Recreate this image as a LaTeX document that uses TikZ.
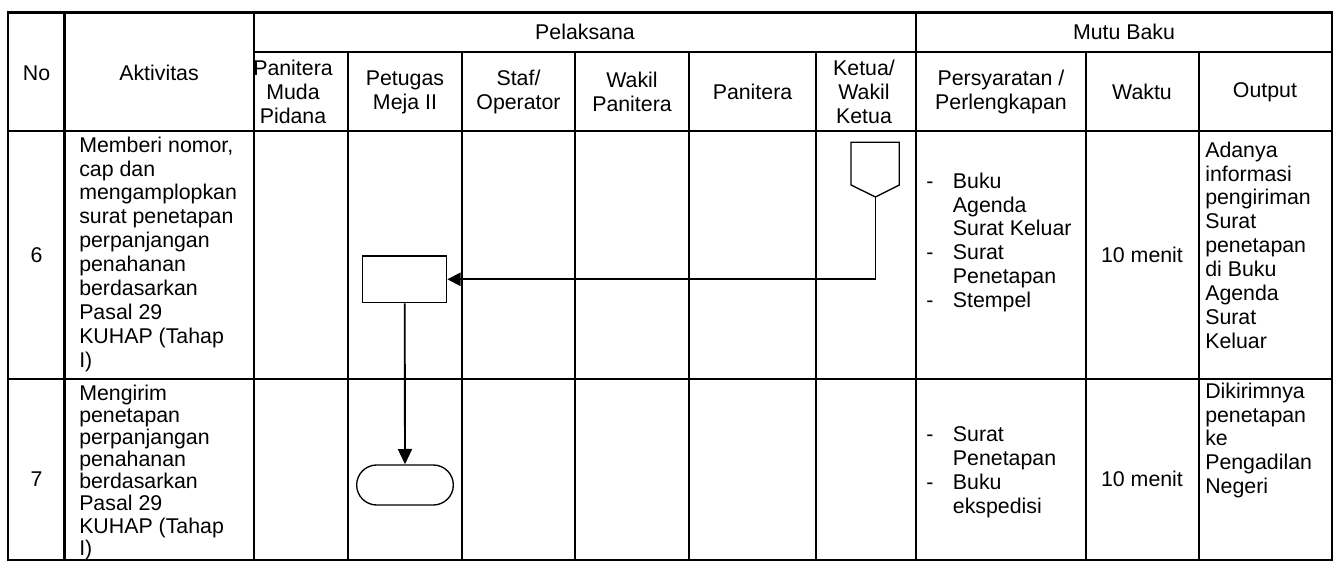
\documentclass[tikz,border=0pt]{standalone}
\usepackage{fontspec}
\setmainfont{Liberation Sans}
\usetikzlibrary{arrows.meta}
\begin{document}
\begin{tikzpicture}[x=0.75pt,y=-0.75pt,
  txt/.style={font=\fontsize{16pt}{17.9pt}\selectfont, inner sep=0pt},
  tighttxt/.style={font=\fontsize{16pt}{16.6pt}\selectfont, inner sep=0pt},
  gridline/.style={line width=1.7pt},
  shp/.style={draw, line width=1pt, fill=white, inner sep=0pt},
  conn/.style={line width=1.4pt, -{Triangle[length=10pt,width=10pt]}}]
\useasboundingbox (0,0) rectangle (1340,577);
% table grid
\draw[gridline] (8,12.5) rectangle (1332,560);
\draw[gridline] (254,52) -- (1332,52);
\draw[gridline] (8,131) -- (1332,131);
\draw[gridline] (8,379) -- (1332,379);
\foreach \x in {64.5,254,916} \draw[gridline] (\x,12.5) -- (\x,560);
\foreach \x in {348,462,575,689,816,1086,1199} \draw[gridline] (\x,52) -- (\x,560);
% header texts
\node[txt] (hno) at (36.5,73) {No};
\node[txt] (hakt) at (159,73) {Aktivitas};
\node[txt] (hpel) at (585,32) {Pelaksana};
\node[txt] (hmutu) at (1124,32) {Mutu Baku};
\node[txt, align=center] (hpmp) at (293,92) {Panitera\\Muda\\Pidana};
\node[txt, align=center] (hpmj) at (405,92) {Petugas\\Meja II};
\node[txt, align=center] (hstaf) at (518.5,92) {Staf/\\Operator};
\node[txt, align=center] (hwp) at (632,92) {Wakil\\Panitera};
\node[txt, align=center] (hpan) at (752.5,92) {Panitera};
\node[txt, align=center] (hket) at (864,92) {Ketua/\\Wakil\\Ketua};
\node[txt, align=center] (hpers) at (1001,92) {Persyaratan /\\Perlengkapan};
\node[txt, align=center] (hwak) at (1142,92) {Waktu};
\node[txt, align=center] (hout) at (1265,92) {Output};
% row 6
\node[txt] (n6) at (36.5,255) {6};
\node[txt, anchor=north west, align=left] (a6) at (79,136.5)
  {Memberi nomor,\\cap dan\\mengamplopkan\\surat penetapan\\perpanjangan\\penahanan\\berdasarkan\\Pasal 29\\KUHAP (Tahap\\I)};
\node[txt, anchor=north west, align=left] (p6txt) at (926,172.5)
  {\makebox[20pt][l]{-}Buku\\\hspace*{20pt}Agenda\\\hspace*{20pt}Surat Keluar\\\makebox[20pt][l]{-}Surat\\\hspace*{20pt}Penetapan\\\makebox[20pt][l]{-}Stempel};
\node[txt] (w6) at (1142,255) {10 menit};
\node[txt, anchor=north west, align=left] (o6) at (1205,141.5)
  {Adanya\\informasi\\pengiriman\\Surat\\penetapan\\di Buku\\Agenda\\Surat\\Keluar};
% row 7
\node[txt] (n7) at (36.5,479) {7};
\node[tighttxt, anchor=north west, align=left] (a7) at (79,384.5)
  {Mengirim\\penetapan\\perpanjangan\\penahanan\\berdasarkan\\Pasal 29\\KUHAP (Tahap\\I)};
\node[txt, anchor=north west, align=left] (p7txt) at (926,426.5)
  {\makebox[20pt][l]{-}Surat\\\hspace*{20pt}Penetapan\\\makebox[20pt][l]{-}Buku\\\hspace*{20pt}ekspedisi};
\node[txt] (w7) at (1142,479) {10 menit};
\node[txt, anchor=north west, align=left] (o7) at (1205,382.5)
  {Dikirimnya\\penetapan\\ke\\Pengadilan\\Negeri};
% flow shapes
\draw[shp] (851,142.3) -- (899.3,142.3) -- (899.3,185) -- (875.5,197) -- (851,185) -- cycle;
\coordinate (kt) at (875.5,197);
\node[shp, minimum width=63pt, minimum height=35pt] (p6) at (404.7,279.3) {};
\node[shp, rounded corners=15pt, minimum width=72.5pt, minimum height=30pt] (t7) at (405,485) {};
% connectors
\draw[conn] (kt) |- (p6.east);
\draw[conn, -{Triangle[length=11.5pt,width=10.5pt]}] (p6.south) -- (t7.north);
\end{tikzpicture}
\end{document}
